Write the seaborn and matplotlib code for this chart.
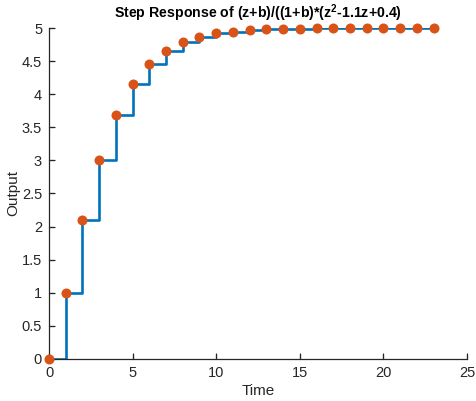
import numpy as np
import pandas as pd
import matplotlib
matplotlib.use("Agg")
import matplotlib.pyplot as plt
import matplotlib.transforms as mtransforms
import seaborn as sns

time = list(range(24))
output = [0.0, 1.0, 2.10, 3.01, 3.685, 4.148, 4.454, 4.66, 4.79, 4.87, 4.92, 4.947,
          4.967, 4.98, 4.988, 4.993, 4.996, 4.998, 4.999, 5.0, 5.0, 5.0, 5.0, 5.0]
xticks = [0, 5, 10, 15, 20, 25]
yticks = [0, 0.5, 1, 1.5, 2, 2.5, 3, 3.5, 4, 4.5, 5]
ytick_labels = ["0", "0.5", "1", "1.5", "2", "2.5", "3", "3.5", "4", "4.5", "5"]

sns.set_style("ticks")
plt.rcParams['font.family'] = ['Liberation Sans', 'DejaVu Sans']
plt.rcParams['mathtext.fontset'] = 'custom'
plt.rcParams['mathtext.rm'] = 'Liberation Sans'
plt.rcParams['mathtext.bf'] = 'Liberation Sans:bold'
plt.rcParams['xtick.direction'] = 'in'
plt.rcParams['ytick.direction'] = 'in'
plt.rcParams['xtick.major.size'] = 4
plt.rcParams['ytick.major.size'] = 4
plt.rcParams['xtick.major.width'] = 0.8
plt.rcParams['ytick.major.width'] = 0.8
plt.rcParams['xtick.color'] = '#262626'
plt.rcParams['ytick.color'] = '#262626'
plt.rcParams['xtick.labelsize'] = 10.5
plt.rcParams['ytick.labelsize'] = 10.5
plt.rcParams['xtick.major.pad'] = 5
plt.rcParams['ytick.major.pad'] = 5

df = pd.DataFrame({"Time": time, "Output": output})

fig, ax = plt.subplots(figsize=(4.76, 4.01), dpi=100)
fig.subplots_adjust(left=0.103, right=0.981, bottom=0.105, top=0.930)

sns.lineplot(data=df, x="Time", y="Output", ax=ax, drawstyle="steps-post",
             color="#0072BD", linewidth=1.9, zorder=2)
sns.scatterplot(data=df, x="Time", y="Output", ax=ax, color="#D95319",
                s=52, edgecolor="#D95319", linewidth=0, zorder=3, clip_on=False)

ax.set_xlim(0, 25)
ax.set_ylim(0, 5)
ax.set_xticks(xticks)
ax.set_yticks(yticks)
ax.set_yticklabels(ytick_labels)
sns.despine(ax=ax)
for side in ["left", "bottom"]:
    ax.spines[side].set_color("#262626")
    ax.spines[side].set_linewidth(0.9)

# explicit inward tick marks (axis decoration) in case marker ticks are not rendered
tx = mtransforms.blended_transform_factory(ax.transData, ax.transAxes)
ty = mtransforms.blended_transform_factory(ax.transAxes, ax.transData)
for xv in xticks:
    ax.plot([xv, xv], [0, 0.014], transform=tx, color="#262626", lw=0.9,
            clip_on=False, zorder=1)
for yv in yticks:
    ax.plot([0, 0.011], [yv, yv], transform=ty, color="#262626", lw=0.9,
            clip_on=False, zorder=1)

ax.set_xlabel("Time", fontsize=11, color="#262626", labelpad=3)
ax.set_ylabel("Output", fontsize=11, color="#262626", labelpad=1)
ax.set_title(r"Step Response of (z+b)/((1+b)*(z$^\mathbf{2}$-1.1z+0.4)",
             fontsize=10.2, fontweight="bold", color="black", pad=7)

fig.savefig("out.png", dpi=100, facecolor="white")
